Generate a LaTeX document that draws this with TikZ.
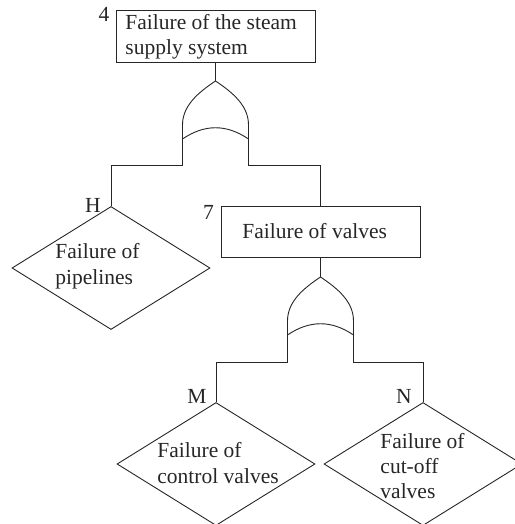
\documentclass[tikz,border=0pt]{standalone}
\usepackage{fontspec}
\setmainfont{Liberation Serif}
\usetikzlibrary{shapes.geometric}
\begin{document}
\begin{tikzpicture}[x=1pt, y=-1pt, line width=0.9pt, draw=black!85, text=black!85,
  every node/.style={font=\fontsize{21.5}{26}\selectfont},
  evbox/.style={draw, rectangle, inner sep=0pt},
  basic/.style={draw, diamond, inner sep=0pt, minimum width=198pt, minimum height=123pt},
  tag/.style={inner sep=0pt, anchor=base},
  txt/.style={align=left, inner sep=0pt, anchor=base west},
  orgate/.pic={
    \coordinate (-apex) at (0,0);
    \coordinate (-l) at (-33,58);
    \coordinate (-r) at (33,58);
    \draw (0,0) .. controls (-18,12) and (-33,25) .. (-33,44) -- (-33,58)
          .. controls (-11,43) and (11,43) .. (33,58) -- (33,44)
          .. controls (33,25) and (18,12) .. (0,0);
  }]
\useasboundingbox (0,0) rectangle (514,524);

% events (multi-line texts are placed by the baseline of their last line)
\node[evbox, minimum width=199pt, minimum height=52pt] (top) at (215.5,36) {};
\node[txt, font=\fontsize{21.5}{25}\selectfont] (toptext) at (125,55) {Failure of the steam\\supply system};
\node[tag] (t4) at (104,22) {4};

\node[evbox, minimum width=199pt, minimum height=51pt] (valves) at (320.5,231.5) {};
\node[txt] (valvestext) at (242,238) {Failure of valves};
\node[tag] (t7) at (208.5,219) {7};

% basic events
\node[basic] (H) at (111,268) {};
\node[txt] (Htext) at (55,284) {Failure of\\pipelines};
\node[tag] (tH) at (93,212) {H};

\node[basic] (M) at (216,464) {};
\node[txt] (Mtext) at (157,483) {Failure of\\control valves};
\node[tag] (tM) at (197,403) {M};

\node[basic] (N) at (423,464) {};
\node[txt, font=\fontsize{21.5}{25}\selectfont] (Ntext) at (380,498) {Failure of\\cut-off\\valves};
\node[tag] (tN) at (404,403) {N};

% OR gates
\pic (g1) at (215.5,81) {orgate};
\pic (g2) at (320.5,277) {orgate};

% connectors
\draw (top.south) -- (g1-apex);
\draw (g1-l) -- ++(0,26) -| (H.north);
\draw (g1-r) -- ++(0,26) -| (valves.north);
\draw (valves.south) -- (g2-apex);
\draw (g2-l) -- ++(0,27) -| (M.north);
\draw (g2-r) -- ++(0,27) -| (N.north);
\end{tikzpicture}
\end{document}
